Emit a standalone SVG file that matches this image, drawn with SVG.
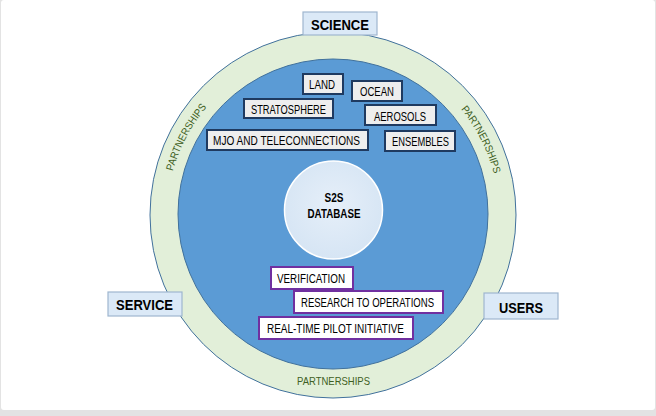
<svg xmlns="http://www.w3.org/2000/svg" width="656" height="416" viewBox="0 0 656 416">
<style>
text{font-family:"Liberation Sans",Arial,sans-serif;fill:#000;}
.topic rect{fill:#eeeeee;stroke:#1f3a60;stroke-width:2;}
.topic text{font-size:12.5px;}
.act rect{fill:#ffffff;stroke:#7030a0;stroke-width:2;}
.act text{font-size:12.5px;}
.side rect{fill:#dbe9f7;stroke:#9fb6cf;stroke-width:1.2;}
.side text{font-size:15px;font-weight:bold;}
.part{font-size:10.5px;fill:#3f5f24;}
</style>
<defs>
<path id="arc" d="M 167 215 A 166 166 0 0 1 499 215"/>
<radialGradient id="db" cx="50%" cy="45%" r="55%">
<stop offset="0" stop-color="#e6eff9"/>
<stop offset="1" stop-color="#d6e5f4"/>
</radialGradient>
</defs>
<rect x="0" y="0" width="656" height="416" fill="#e3e3e3"/>
<rect x="1" y="0" width="654" height="410" rx="3" fill="#ffffff"/>
<g id="ring">
<circle cx="333" cy="215" r="183" fill="#e2efd9" stroke="#41719c" stroke-width="1"/>
<text class="part" text-anchor="middle" textLength="73" lengthAdjust="spacingAndGlyphs"><textPath href="#arc" startOffset="15.5%">PARTNERSHIPS</textPath></text>
<text class="part" text-anchor="middle" textLength="73" lengthAdjust="spacingAndGlyphs"><textPath href="#arc" startOffset="85%">PARTNERSHIPS</textPath></text>
<text class="part" x="333.5" y="385" text-anchor="middle" textLength="73" lengthAdjust="spacingAndGlyphs">PARTNERSHIPS</text>
</g>
<g id="core">
<circle cx="333" cy="214" r="155" fill="#5b9bd5" stroke="#41719c" stroke-width="1"/>
</g>
<g id="database">
<circle cx="333.5" cy="210" r="49" fill="url(#db)" stroke="#ffffff" stroke-width="1.5"/>
<text x="334" y="202" text-anchor="middle" font-size="13.5" font-weight="bold" textLength="19" lengthAdjust="spacingAndGlyphs">S2S</text>
<text x="334" y="217.5" text-anchor="middle" font-size="13.5" font-weight="bold" textLength="53" lengthAdjust="spacingAndGlyphs">DATABASE</text>
</g>
<g id="science" class="side"><rect x="303" y="12" width="74" height="23"/><text x="340" y="30" text-anchor="middle" textLength="58" lengthAdjust="spacingAndGlyphs">SCIENCE</text></g>
<g id="service" class="side"><rect x="108" y="292" width="74" height="24"/><text x="144.5" y="310" text-anchor="middle" textLength="57" lengthAdjust="spacingAndGlyphs">SERVICE</text></g>
<g id="users" class="side"><rect x="484" y="293" width="74" height="26"/><text x="521" y="313" text-anchor="middle" textLength="44" lengthAdjust="spacingAndGlyphs">USERS</text></g>
<g id="land" class="topic"><rect x="303" y="74" width="40" height="20"/><text x="322" y="89" text-anchor="middle" textLength="26" lengthAdjust="spacingAndGlyphs">LAND</text></g>
<g id="ocean" class="topic"><rect x="352" y="81" width="50" height="20"/><text x="377" y="96" text-anchor="middle" textLength="34" lengthAdjust="spacingAndGlyphs">OCEAN</text></g>
<g id="stratosphere" class="topic"><rect x="244" y="99" width="89" height="19"/><text x="288.5" y="114" text-anchor="middle" textLength="75" lengthAdjust="spacingAndGlyphs">STRATOSPHERE</text></g>
<g id="aerosols" class="topic"><rect x="365" y="105" width="71" height="20"/><text x="400" y="120.5" text-anchor="middle" textLength="52" lengthAdjust="spacingAndGlyphs">AEROSOLS</text></g>
<g id="mjo" class="topic"><rect x="207" y="130" width="161" height="20"/><text x="286.5" y="145" text-anchor="middle" textLength="147" lengthAdjust="spacingAndGlyphs">MJO AND TELECONNECTIONS</text></g>
<g id="ensembles" class="topic"><rect x="385" y="131" width="70" height="20"/><text x="420.5" y="146" text-anchor="middle" textLength="57" lengthAdjust="spacingAndGlyphs">ENSEMBLES</text></g>
<g id="verification" class="act"><rect x="271" y="267" width="82" height="22"/><text x="311" y="283" text-anchor="middle" textLength="68" lengthAdjust="spacingAndGlyphs">VERIFICATION</text></g>
<g id="r2o" class="act"><rect x="294" y="291" width="149" height="22"/><text x="367.5" y="307" text-anchor="middle" textLength="133" lengthAdjust="spacingAndGlyphs">RESEARCH TO OPERATIONS</text></g>
<g id="rtpi" class="act"><rect x="259" y="317" width="154" height="22"/><text x="335.5" y="333" text-anchor="middle" textLength="137" lengthAdjust="spacingAndGlyphs">REAL-TIME PILOT INITIATIVE</text></g>
<g id="connectors"></g>
</svg>
